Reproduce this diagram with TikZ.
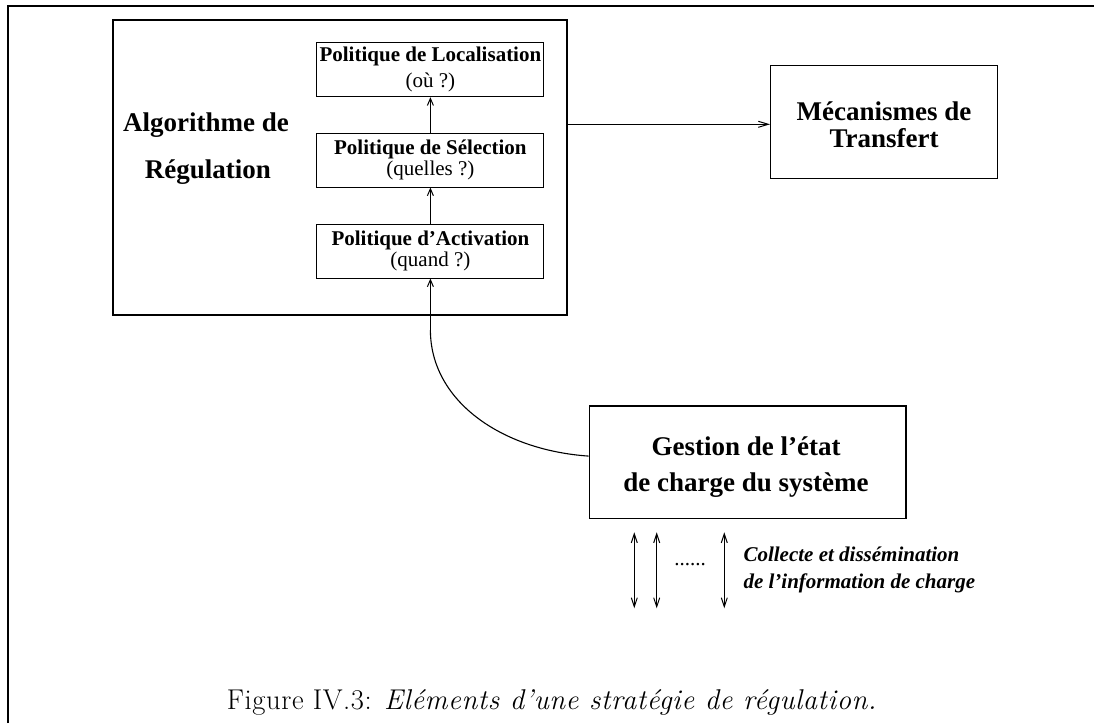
\documentclass[tikz,border=0pt]{standalone}
\usepackage{fontspec}
\setmainfont{Liberation Serif}
\newfontfamily\lmfont[LetterSpace=2]{Latin Modern Roman}
\usetikzlibrary{arrows.meta,calc}
\tikzset{
  frameline/.style={line width=2.3pt},
  bigbox/.style={draw, line width=1.3pt, rectangle, inner sep=0pt},
  smallbox/.style={draw, line width=1pt, rectangle, inner sep=0pt, minimum width=227pt, minimum height=54pt, align=center, font=\fontsize{21}{21}\selectfont},
  bigtext/.style={inner sep=0pt, align=center, font=\fontsize{27}{27}\selectfont\bfseries},
  arr/.style={line width=1pt, -{Straight Barb[length=7pt,width=6pt]}},
  longarr/.style={line width=1pt, -{Straight Barb[length=10pt,width=6pt]}},
  dblarr/.style={line width=1pt, {Straight Barb[length=9pt,width=6pt]}-{Straight Barb[length=9pt,width=6pt]}},
}
\begin{document}
\begin{tikzpicture}[x=1pt,y=-1pt]
\useasboundingbox (0,0) rectangle (1094,723);
% frame
\draw[frameline] (8,723) -- (8,6.2) -- (1094,6.2);
% big box
\node[bigbox, minimum width=454pt, minimum height=295pt] (algo) at (340,167.5) {};
\node[bigtext, anchor=base] (algotxt1) at (206,131.7) {Algorithme de};
\node[bigtext, anchor=base] (algotxt2) at (208,178) {Régulation};
% inner boxes
\node[smallbox] (loc) at (430.4,69.7) {\textbf{Politique de Localisation}\\[5pt](où ?)};
\node[smallbox] (sel) at (430.4,160) {\textbf{Politique de Sélection}\\(quelles ?)};
\node[smallbox] (act) at (430.4,251) {\textbf{Politique d’Activation}\\(quand ?)};
\draw[arr] (sel.north) -- (loc.south);
\draw[arr] (act.north) -- (sel.south);
% mecanismes
\node[bigbox, minimum width=226.6pt, minimum height=113pt] (mec) at (884,121.7) {};
\node[bigtext, anchor=base] (mectxt1) at (884,120.7) {Mécanismes de};
\node[bigtext, anchor=base] (mectxt2) at (884,147.3) {Transfert};
\draw[longarr] (algo.east |- 0,124.3) -- (mec.west |- 0,124.3);
% gestion
\node[bigbox, minimum width=316.7pt, minimum height=112.3pt] (ges) at (747.7,462.2) {};
\node[bigtext, anchor=base] (gestxt1) at (746,455) {Gestion de l’état};
\node[bigtext, anchor=base] (gestxt2) at (746,491.7) {de charge du système};
\coordinate (gstart) at ($(ges.west)+(0,-6.1)$);
\coordinate (cend) at (act.south |- 0,330);
\draw[line width=1.1pt] (gstart) .. controls (500,450) and (cend |- 0,400) .. (cend);
\draw[arr] (cend) -- (act.south);
% bottom arrows
\coordinate (a1t) at (634.3,532.3);
\coordinate (a1b) at (634.3,608.3);
\coordinate (a2t) at (656.7,532.3);
\coordinate (a2b) at (656.7,608.3);
\coordinate (a3t) at (724.3,532.3);
\coordinate (a3b) at (724.3,608.3);
\draw[dblarr] (a1b) -- (a1t);
\draw[dblarr] (a2b) -- (a2t);
\draw[dblarr] (a3b) -- (a3t);
\node[inner sep=0pt, anchor=base, font=\fontsize{21}{21}\selectfont] (dots) at (690,565) {......};
\node[inner sep=0pt, anchor=base west, font=\fontsize{21}{21}\selectfont\bfseries\itshape] (collect1) at (743.3,561.7) {Collecte et dissémination};
\node[inner sep=0pt, anchor=base west, font=\fontsize{21}{21}\selectfont\bfseries\itshape] (collect2) at (743.3,588.3) {de l’information de charge};
% caption
\node[inner sep=0pt, anchor=base, font=\lmfont\fontsize{28.6}{28.6}\selectfont] (caption) at (552,709) {Figure IV.3: \textit{Eléments d’une stratégie de régulation.}};
\end{tikzpicture}
\end{document}
